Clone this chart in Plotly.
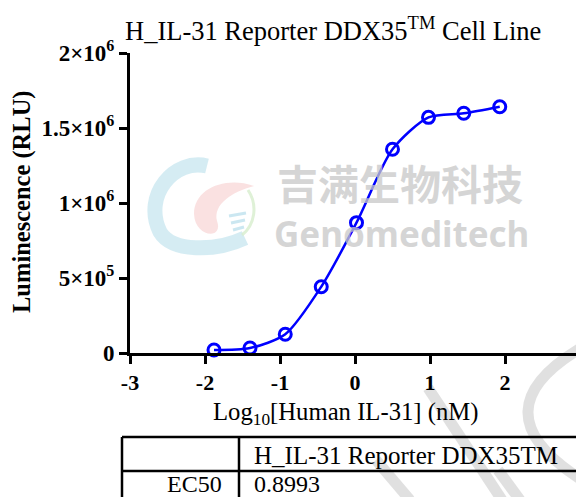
import plotly.graph_objects as go

# ---- data ----
log_conc = [-1.88, -1.40, -0.93, -0.45, 0.02, 0.50, 0.98, 1.45, 1.93]
rlu = [20000, 33000, 125000, 442000, 869000, 1358000, 1571000, 1598000, 1642000]
y_tickvals = [0, 500000, 1000000, 1500000, 2000000]
y_ticktext = ["0", "5×10<sup>5</sup>", "1×10<sup>6</sup>", "1.5×10<sup>6</sup>", "2×10<sup>6</sup>"]
x_tickvals = [-3, -2, -1, 0, 1, 2, 3]
table_header = ["", "H_IL-31 Reporter DDX35TM"]
table_row = ["EC50", "0.8993"]

OFF = 8  # page body margin
W, H = 584 - OFF, 497 - OFF
L, T = 130 - OFF, 53 - OFF
PW, PH = 450, 300
R, B = W - L - PW, H - T - PH


def px(x):  # reference pixel x -> paper
    return (x - OFF - L) / PW


def py(y):  # reference pixel y -> paper
    return (T + PH - (y - OFF)) / PH


SERIF = "Liberation Serif, Tinos, Times New Roman, Times, Noto Serif, DejaVu Serif, serif"
BLUE = "#0000ff"

fig = go.Figure()
fig.add_trace(go.Scatter(
    x=log_conc, y=rlu, mode="lines+markers",
    line=dict(color=BLUE, width=2.5, shape="spline", smoothing=0.75),
    marker=dict(symbol="circle-open", size=12, color=BLUE, line=dict(width=3, color=BLUE)),
    showlegend=False, cliponaxis=False,
))

shapes = []
# table lines
tl, tr, tt, tm, tb, tc = 122, 581, 437, 471, 505, 239
lw = 2.5
for (x0, y0, x1, y1) in [(tl, tt, tr, tt), (tl, tm, tr, tm), (tl, tt, tl, tb),
                         (tr, tt, tr, tb), (tc, tt, tc, tb)]:
    shapes.append(dict(type="line", xref="paper", yref="paper",
                       x0=px(x0), y0=py(y0), x1=px(x1), y1=py(y1),
                       line=dict(color="black", width=lw)))


def P(pts):
    out = []
    for cmd, *xy in pts:
        coords = " ".join(f"{px(xy[i])},{py(xy[i + 1])}" for i in range(0, len(xy), 2))
        out.append(f"{cmd} {coords}".strip())
    return " ".join(out)


# faint watermark strokes (bottom right)
wm = "rgba(218,218,218,0.85)"
for (x0, y0, x1, y1) in [(428, 388, 502, 500), (376, 460, 410, 500), (498, 470, 520, 500)]:
    shapes.append(dict(type="line", xref="paper", yref="paper", layer="below",
                       x0=px(x0), y0=py(y0), x1=px(x1), y1=py(y1),
                       line=dict(color=wm, width=11)))
shapes.append(dict(type="path", xref="paper", yref="paper", layer="below",
                   path=P([("M", 582, 480), ("Q", 472, 410, 586, 345)]),
                   line=dict(color=wm, width=11)))

# faint logo
shapes.append(dict(type="path", xref="paper", yref="paper", layer="below",
                   path=P([("M", 207, 166), ("C", 175, 158, 142, 195, 160, 232),
                           ("C", 172, 252, 215, 252, 245, 238)]),
                   line=dict(color="rgba(195,228,238,0.7)", width=15)))
shapes.append(dict(type="path", xref="paper", yref="paper", layer="below",
                   path=P([("M", 254, 186), ("C", 226, 176, 194, 188, 194, 214),
                           ("C", 195, 238, 224, 240, 217, 221),
                           ("C", 213, 204, 232, 192, 254, 186), ("Z",)]),
                   fillcolor="rgba(246,200,200,0.55)", line=dict(width=0)))
shapes.append(dict(type="path", xref="paper", yref="paper", layer="below",
                   path=P([("M", 248, 190), ("C", 258, 205, 255, 225, 242, 235)]),
                   line=dict(color="rgba(215,238,205,0.8)", width=3)))
for i in range(3):
    shapes.append(dict(type="line", xref="paper", yref="paper", layer="below",
                       x0=px(229 + i * 2), y0=py(216 + i * 7), x1=px(246 - i), y1=py(213 + i * 7),
                       line=dict(color="rgba(190,225,238,0.8)", width=3)))

annotations = [
    dict(text="H_IL-31 Reporter DDX35<sup>TM</sup> Cell Line", x=px(333), y=py(29),
         xref="paper", yref="paper", showarrow=False, xanchor="center", yanchor="middle",
         font=dict(family=SERIF, size=26.5, color="black")),
    dict(text="Log<sub>10</sub>[Human IL-31] (nM)", x=px(345), y=py(413),
         xref="paper", yref="paper", showarrow=False, xanchor="center", yanchor="middle",
         font=dict(family=SERIF, size=24.7, color="black")),
    dict(text="<b>Luminescence (RLU)</b>", x=px(22), y=py(202), textangle=-90,
         xref="paper", yref="paper", showarrow=False, xanchor="center", yanchor="middle",
         font=dict(family=SERIF, size=24.5, color="black")),
    dict(text="吉满生物科技", x=px(400), y=py(182), xref="paper", yref="paper",
         showarrow=False, xanchor="center", yanchor="middle",
         font=dict(family="Noto Sans CJK SC", size=41, color="rgba(200,200,200,0.75)", weight=700)),
    dict(text="<b>Genomeditech</b>", x=px(401), y=py(233), xref="paper", yref="paper",
         showarrow=False, xanchor="center", yanchor="middle",
         font=dict(family="Noto Sans", size=35, color="rgba(200,200,200,0.75)")),
    dict(text=table_header[1], x=px(252), y=py(455), xref="paper", yref="paper",
         showarrow=False, xanchor="left", yanchor="middle",
         font=dict(family=SERIF, size=25, color="black")),
    dict(text=table_row[0], x=px(224), y=py(484), xref="paper", yref="paper",
         showarrow=False, xanchor="right", yanchor="middle",
         font=dict(family=SERIF, size=24, color="black")),
    dict(text=table_row[1], x=px(252), y=py(484), xref="paper", yref="paper",
         showarrow=False, xanchor="left", yanchor="middle",
         font=dict(family=SERIF, size=24, color="black")),
]

fig.update_layout(
    width=W, height=H, margin=dict(l=L, r=R, t=T, b=B, autoexpand=False),
    paper_bgcolor="white", plot_bgcolor="white",
    font=dict(family=SERIF),
    shapes=shapes, annotations=annotations,
    xaxis=dict(range=[-3, 3], tickvals=x_tickvals, ticktext=[str(v) for v in x_tickvals],
               showgrid=False, zeroline=False, showline=True, linewidth=3, linecolor="black",
               ticks="outside", ticklen=8, tickwidth=3, tickcolor="black",
               tickfont=dict(family=SERIF, size=22, color="black", weight=700)),
    yaxis=dict(range=[0, 2000000], tickvals=y_tickvals, ticktext=y_ticktext,
               showgrid=False, zeroline=False, showline=True, linewidth=3, linecolor="black",
               ticks="outside", ticklen=8, tickwidth=3, tickcolor="black",
               tickfont=dict(family=SERIF, size=23, color="black", weight=700)),
)

fig.write_html("out.html")
